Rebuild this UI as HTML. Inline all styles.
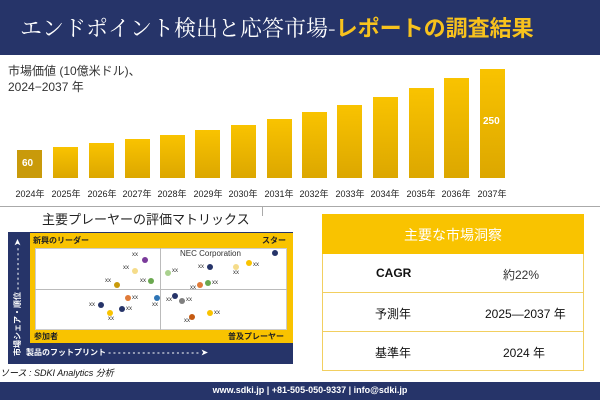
<!DOCTYPE html>
<html><head><meta charset="utf-8"><style>
body{margin:0;width:600px;height:400px;overflow:hidden;background:#fff;font-family:"Liberation Sans","Noto Sans CJK JP",sans-serif;position:relative}
div{position:absolute;box-sizing:border-box}
.bar{background:linear-gradient(#f9c300,#dca700);width:25px;bottom:222px}
.yr{top:187px;font-size:9px;color:#222;width:40px;text-align:center}
.dot{width:6px;height:6px;border-radius:50%}
.xx{font-size:6px;color:#333}
.row{left:322px;width:262px;height:39px;border:1px solid #f2cf60;border-top:none;font-size:12px;color:#111}
.row span{position:absolute;top:12px}
</style></head><body>
<div style="left:0;top:0;width:600px;height:55px;background:#263469"></div>
<div style="left:20px;top:11px;font-size:22px;color:#fff;font-family:'Noto Serif CJK SC','Noto Sans CJK JP',serif;white-space:nowrap">エンドポイント検出と応答市場-<span style="color:#f7c21d;font-family:'Noto Sans CJK JP',sans-serif;font-weight:bold">レポートの調査結果</span></div>
<div style="left:8px;top:63px;font-size:12px;color:#333;line-height:16px">市場価値 (10億米ドル)、<br>2024−2037 年</div>
<div class="bar" style="left:17px;height:28px;background:#c99a0a"></div>
<div class="bar" style="left:53px;height:31px"></div>
<div class="bar" style="left:89px;height:35px"></div>
<div class="bar" style="left:125px;height:39px"></div>
<div class="bar" style="left:160px;height:43px"></div>
<div class="bar" style="left:195px;height:48px"></div>
<div class="bar" style="left:231px;height:53px"></div>
<div class="bar" style="left:267px;height:59px"></div>
<div class="bar" style="left:302px;height:66px"></div>
<div class="bar" style="left:337px;height:73px"></div>
<div class="bar" style="left:373px;height:81px"></div>
<div class="bar" style="left:409px;height:90px"></div>
<div class="bar" style="left:444px;height:100px"></div>
<div class="bar" style="left:480px;height:109px"></div>
<div style="left:22px;top:158px;font-size:10px;color:#fff;font-weight:bold">60</div>
<div style="left:483px;top:116px;font-size:10px;color:#fff;font-weight:bold">250</div>
<div class="yr" style="left:10px">2024年</div><div class="yr" style="left:46px">2025年</div><div class="yr" style="left:82px">2026年</div><div class="yr" style="left:117px">2027年</div><div class="yr" style="left:152px">2028年</div><div class="yr" style="left:188px">2029年</div><div class="yr" style="left:223px">2030年</div><div class="yr" style="left:259px">2031年</div><div class="yr" style="left:294px">2032年</div><div class="yr" style="left:330px">2033年</div><div class="yr" style="left:365px">2034年</div><div class="yr" style="left:401px">2035年</div><div class="yr" style="left:436px">2036年</div><div class="yr" style="left:472px">2037年</div>
<div style="left:0;top:206px;width:600px;height:1px;background:#aaa"></div>
<div style="left:262px;top:206px;width:1px;height:10px;background:#aaa"></div>
<div style="left:42px;top:209px;font-size:13px;color:#222">主要プレーヤーの評価マトリックス</div>
<div style="left:8px;top:232px;width:285px;height:132px;background:#263469"></div>
<div style="left:30px;top:233px;width:263px;height:110px;background:#f9c300"></div>
<div style="left:35px;top:248px;width:252px;height:82px;background:#fff;border:1px solid #ccc"></div>
<div style="left:160px;top:248px;width:1px;height:82px;background:#bbb"></div>
<div style="left:35px;top:289px;width:252px;height:1px;background:#bbb"></div>
<div style="left:33px;top:235px;font-size:8px;font-weight:bold;color:#222">新興のリーダー</div>
<div style="left:262px;top:235px;font-size:8px;font-weight:bold;color:#222">スター</div>
<div style="left:34px;top:331px;font-size:8px;font-weight:bold;color:#222">参加者</div>
<div style="left:228px;top:331px;font-size:8px;font-weight:bold;color:#222">普及プレーヤー</div>
<div style="left:180px;top:249px;font-size:8px;color:#333">NEC Corporation</div>
<div style="left:26px;top:347px;font-size:8px;font-weight:bold;color:#fff;white-space:nowrap">製品のフットプリント - - - - - - - - - - - - - - - - - - - ➤</div>
<div style="left:12px;top:356px;font-size:8px;color:#fff;transform:rotate(-90deg);transform-origin:0 0;white-space:nowrap;font-weight:bold">市場シェア・順位 - - - - - - - - - ➤</div>
<div class="dot" style="left:142px;top:257px;background:#7a3a9a"></div>
<div class="dot" style="left:132px;top:268px;background:#f5dc8a"></div>
<div class="dot" style="left:148px;top:278px;background:#6aa84f"></div>
<div class="dot" style="left:114px;top:282px;background:#c99a0a"></div>
<div class="dot" style="left:125px;top:295px;background:#e07b39"></div>
<div class="dot" style="left:154px;top:295px;background:#2e75b6"></div>
<div class="dot" style="left:98px;top:302px;background:#263469"></div>
<div class="dot" style="left:119px;top:306px;background:#263469"></div>
<div class="dot" style="left:107px;top:310px;background:#f9c300"></div>
<div class="dot" style="left:272px;top:250px;background:#263469"></div>
<div class="dot" style="left:246px;top:260px;background:#f9c300"></div>
<div class="dot" style="left:233px;top:264px;background:#f5dc8a"></div>
<div class="dot" style="left:207px;top:264px;background:#263469"></div>
<div class="dot" style="left:165px;top:270px;background:#a9d18e"></div>
<div class="dot" style="left:205px;top:280px;background:#6aa84f"></div>
<div class="dot" style="left:197px;top:282px;background:#e07b39"></div>
<div class="dot" style="left:172px;top:293px;background:#263469"></div>
<div class="dot" style="left:179px;top:298px;background:#7f7f7f"></div>
<div class="dot" style="left:207px;top:310px;background:#f9c300"></div>
<div class="dot" style="left:189px;top:314px;background:#c55a11"></div>
<div class="xx" style="left:132px;top:252px">xx</div><div class="xx" style="left:123px;top:265px">xx</div><div class="xx" style="left:140px;top:278px">xx</div><div class="xx" style="left:105px;top:278px">xx</div><div class="xx" style="left:132px;top:295px">xx</div><div class="xx" style="left:152px;top:302px">xx</div><div class="xx" style="left:89px;top:302px">xx</div><div class="xx" style="left:126px;top:306px">xx</div><div class="xx" style="left:108px;top:316px">xx</div><div class="xx" style="left:253px;top:262px">xx</div><div class="xx" style="left:233px;top:270px">xx</div><div class="xx" style="left:198px;top:264px">xx</div><div class="xx" style="left:172px;top:268px">xx</div><div class="xx" style="left:212px;top:280px">xx</div><div class="xx" style="left:190px;top:285px">xx</div><div class="xx" style="left:166px;top:297px">xx</div><div class="xx" style="left:186px;top:297px">xx</div><div class="xx" style="left:214px;top:310px">xx</div><div class="xx" style="left:184px;top:318px">xx</div>
<div style="left:0;top:366px;font-size:9px;font-style:italic;color:#111">ソース : SDKI Analytics 分析</div>
<div style="left:322px;top:214px;width:262px;height:40px;background:#f9c300;color:#fff;font-size:14px;text-align:center;padding-top:11px">主要な市場洞察</div>
<div class="row" style="top:254px"><span style="left:53px;font-weight:bold">CAGR</span><span style="left:180px;color:#333">約22%</span></div>
<div class="row" style="top:293px"><span style="left:52px">予測年</span><span style="left:162px">2025—2037 年</span></div>
<div class="row" style="top:332px"><span style="left:52px">基準年</span><span style="left:180px">2024 年</span></div>
<div style="left:0;top:382px;width:600px;height:18px;background:#263469;color:#fff;font-size:9px;font-weight:bold;text-align:center;padding:3px 0 0 20px">www.sdki.jp | +81-505-050-9337 | info@sdki.jp</div>
</body></html>
